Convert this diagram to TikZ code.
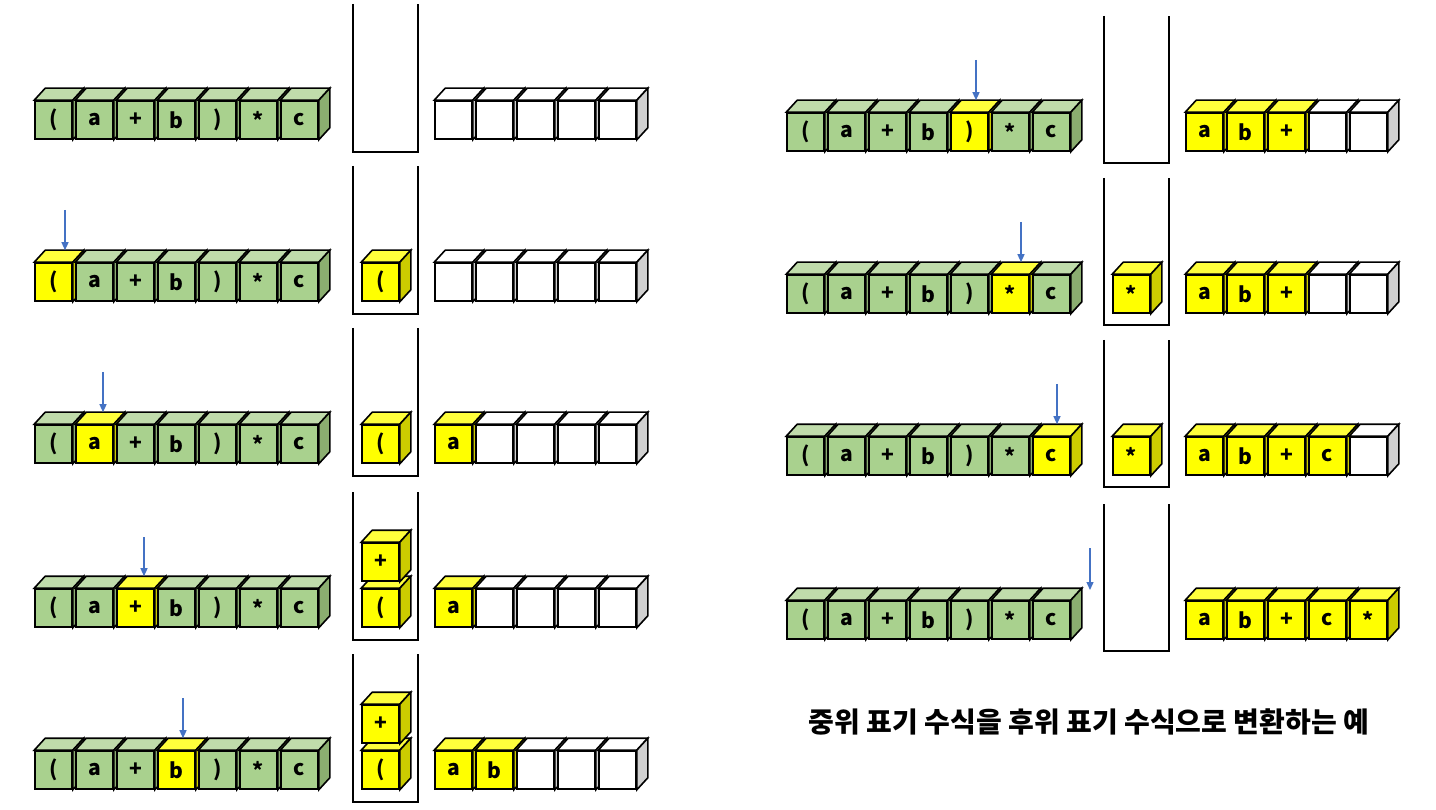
\documentclass[tikz,border=0pt]{standalone}
\usepackage{fontspec}
\setmainfont{Noto Sans CJK KR}
\usetikzlibrary{arrows.meta,calc}
\definecolor{gF}{HTML}{A9D18E}
\definecolor{gT}{HTML}{C0DCAB}
\definecolor{gS}{HTML}{8BAE70}
\definecolor{yF}{HTML}{FFFF00}
\definecolor{yT}{HTML}{FFFF3C}
\definecolor{yS}{HTML}{CCCC00}
\definecolor{wF}{HTML}{FFFFFF}
\definecolor{wT}{HTML}{FFFFFF}
\definecolor{wS}{HTML}{D0D0D0}
\definecolor{arrowblue}{HTML}{4472C4}
\tikzset{
  cubefront/.style={draw=black, line width=1.6pt, minimum width=37pt, minimum height=38pt,
    inner sep=0pt, font=\fontsize{21}{21}\selectfont\bfseries},
  cubeedge/.style={draw=black, line width=1.6pt},
  stackline/.style={draw=black, line width=1.6pt},
  arr/.style={draw=arrowblue, line width=1.3pt, -{Triangle[width=7pt,length=8pt]}},
}
\newcommand\mycube[5]{%
  \edef\cF{#4F}\edef\cT{#4T}\edef\cS{#4S}%
  \pgfmathsetmacro\cx{#2+18.5}\pgfmathsetmacro\cy{#3+19}%
  \node[cubefront, fill=\cF] (#1) at (\cx,\cy) {#5};
  \filldraw[cubeedge, fill=\cT] (#1.north west) -- ++(11,-12) -- ($(#1.north east)+(11,-12)$) -- (#1.north east) -- cycle;
  \filldraw[cubeedge, fill=\cS] (#1.north east) -- ++(11,-12) -- ($(#1.south east)+(11,-12)$) -- (#1.south east) -- cycle;
}
\newcommand\inrow[4]{%
  \foreach \i/\t in {1/{(},2/a,3/+,4/b,5/{)},6/*,7/c}{%
    \ifnum\i=#4\relax\def\k{y}\else\def\k{g}\fi
    \mycube{#1\i}{#2+41*(\i-1)}{#3}{\k}{\t}%
  }}
\newcommand\outrow[5]{%
  \foreach \i/\t in {#5}{%
    \ifnum\i>#4\relax\def\k{w}\else\def\k{y}\fi
    \mycube{#1\i}{#2+41*(\i-1)}{#3}{\k}{\t}%
  }}
\newcommand\stackbox[3]{%
  \draw[stackline] ({#1},{#2-97}) -- ({#1},{#2+#3}) -- ({#1+65},{#2+#3}) -- ({#1+65},{#2-97});}
\begin{document}
\begin{tikzpicture}[x=1pt,y=-1pt]
\useasboundingbox (0,0) rectangle (1436,810);
% ---------- left column ----------
% row 1
\inrow{LAi}{35}{101}{0}
\stackbox{353}{101}{51}
\outrow{LAo}{435}{101}{0}{1/{},2/{},3/{},4/{},5/{}}
% row 2
\inrow{LBi}{35}{263}{1}
\stackbox{353}{263}{51}
\mycube{LBs1}{362}{263}{y}{(}
\outrow{LBo}{435}{263}{0}{1/{},2/{},3/{},4/{},5/{}}
% row 3
\inrow{LCi}{35}{425}{2}
\stackbox{353}{425}{51}
\mycube{LCs1}{362}{425}{y}{(}
\outrow{LCo}{435}{425}{1}{1/a,2/{},3/{},4/{},5/{}}
% row 4
\inrow{LDi}{35}{589}{3}
\stackbox{353}{589}{51}
\mycube{LDs1}{362}{589}{y}{(}
\mycube{LDs2}{362}{543}{y}{+}
\outrow{LDo}{435}{589}{1}{1/a,2/{},3/{},4/{},5/{}}
% row 5
\inrow{LEi}{35}{751}{4}
\stackbox{353}{751}{51}
\mycube{LEs1}{362}{751}{y}{(}
\mycube{LEs2}{362}{705}{y}{+}
\outrow{LEo}{435}{751}{2}{1/a,2/b,3/{},4/{},5/{}}
% ---------- right column ----------
\inrow{RAi}{787}{113}{5}
\stackbox{1104}{113}{50}
\outrow{RAo}{1186}{113}{3}{1/a,2/b,3/+,4/{},5/{}}
\inrow{RBi}{787}{275}{6}
\stackbox{1104}{275}{50}
\mycube{RBs1}{1113}{275}{y}{*}
\outrow{RBo}{1186}{275}{3}{1/a,2/b,3/+,4/{},5/{}}
\inrow{RCi}{787}{437}{7}
\stackbox{1104}{437}{50}
\mycube{RCs1}{1113}{437}{y}{*}
\outrow{RCo}{1186}{437}{4}{1/a,2/b,3/+,4/c,5/{}}
\inrow{RDi}{787}{601}{0}
\stackbox{1104}{601}{50}
\outrow{RDo}{1186}{601}{5}{1/a,2/b,3/+,4/c,5/*}
% ---------- arrows ----------
\coordinate (aLB) at (65,210);
\coordinate (aLC) at (103,372);
\coordinate (aLD) at (144,537);
\coordinate (aLE) at (183,698);
\coordinate (aRA) at (976,60);
\coordinate (aRB) at (1021,222);
\coordinate (aRC) at (1057,384);
\coordinate (aRD) at (1090,548);
\coordinate (aRDe) at (1090,590);
\draw[arr] (aLB) -- ($(aLB |- LBi1.north)+(0,-12)$);
\draw[arr] (aLC) -- ($(aLC |- LCi2.north)+(0,-12)$);
\draw[arr] (aLD) -- ($(aLD |- LDi3.north)+(0,-12)$);
\draw[arr] (aLE) -- ($(aLE |- LEi4.north)+(0,-12)$);
\draw[arr] (aRA) -- ($(aRA |- RAi5.north)+(0,-12)$);
\draw[arr] (aRB) -- ($(aRB |- RBi6.north)+(0,-12)$);
\draw[arr] (aRC) -- ($(aRC |- RCi7.north)+(0,-12)$);
\draw[arr] (aRD) -- (aRDe);
% ---------- title ----------
\node[font=\fontsize{28}{28}\selectfont\bfseries] (title) at (1089,722) {중위 표기 수식을 후위 표기 수식으로 변환하는 예};
\end{tikzpicture}
\end{document}
